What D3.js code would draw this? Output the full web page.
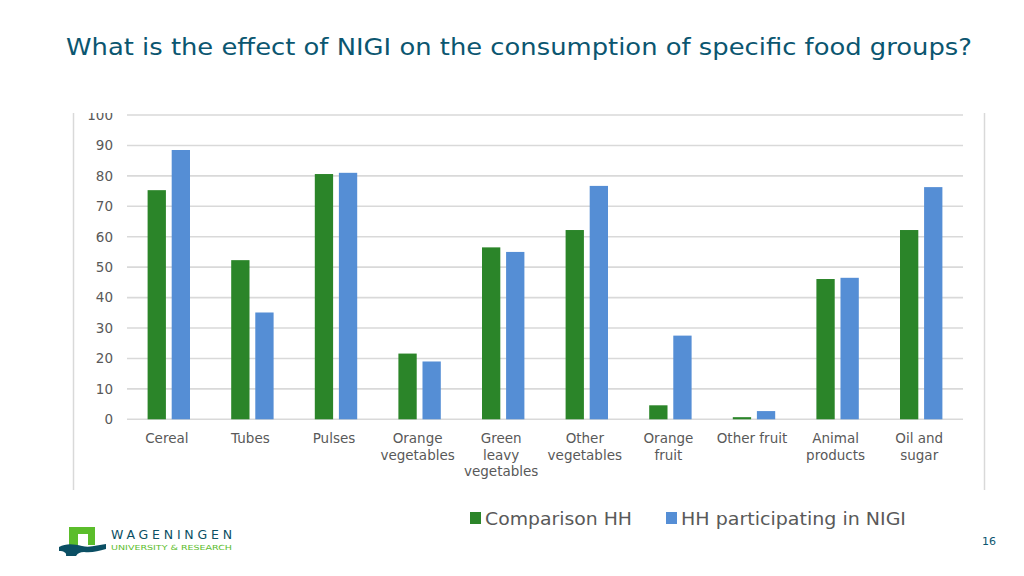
<!DOCTYPE html>
<html><head><meta charset="utf-8">
<script src="https://cdn.jsdelivr.net/npm/d3@7"></script>
<style>
html,body{margin:0;padding:0;background:#fff;}
svg{display:block;font-family:"DejaVu Sans",Verdana,sans-serif;}
</style></head>
<body>
<svg id="c" width="1024" height="576"></svg>
<script>
const categories = ["Cereal","Tubes","Pulses","Orange\nvegetables","Green\nleavy\nvegetables","Other\nvegetables","Orange\nfruit","Other fruit","Animal\nproducts","Oil and\nsugar"];
const seriesNames = ["Comparison HH","HH participating in NIGI"];
const comparisonHH = [75.3,52.3,80.6,21.6,56.5,62.2,4.6,0.7,46.1,62.2];
const nigiHH = [88.5,35.1,81.0,19.0,55.0,76.7,27.5,2.7,46.5,76.3];
const yTicks = [0,10,20,30,40,50,60,70,80,90,100];
const titleText = "What is the effect of NIGI on the consumption of specific food groups?";
const pageNumber = "16";

const colors = ["#2b8529","#558ed5"];
const svg = d3.select("#c");

// title
svg.append("text").attr("x",66).attr("y",55)
  .attr("font-size",22.5).attr("fill","#0b5670")
  .attr("textLength",906).attr("lengthAdjust","spacingAndGlyphs")
  .text(titleText);

// frame lines of embedded chart image
svg.append("line").attr("x1",73.5).attr("x2",73.5).attr("y1",113).attr("y2",490).attr("stroke","#d9d9d9").attr("stroke-width",1.5);
svg.append("line").attr("x1",984.5).attr("x2",984.5).attr("y1",113).attr("y2",490).attr("stroke","#d9d9d9").attr("stroke-width",1.5);

svg.append("defs").append("clipPath").attr("id","clip")
  .append("rect").attr("x",60).attr("y",113).attr("width",930).attr("height",400);

const g = svg.append("g").attr("clip-path","url(#clip)");

const y = d3.scaleLinear().domain([0,100]).range([419.3,115]);
const x = d3.scaleBand().domain(categories).range([127,963]).padding(0);
const xs = d3.scaleBand().domain(seriesNames).range([20.6,63]).paddingInner(0.24);

// gridlines
g.append("g").selectAll("line").data(yTicks).join("line")
  .attr("x1",127).attr("x2",963)
  .attr("y1",d=>y(d)).attr("y2",d=>y(d))
  .attr("stroke","#d9d9d9").attr("stroke-width",1.6);

// y axis labels
const yAxis = d3.axisLeft(y).tickValues(yTicks).tickSize(0).tickPadding(0);
const ya = g.append("g").attr("transform","translate(113,0)").call(yAxis);
ya.select(".domain").remove();
ya.selectAll("text").attr("font-size",13.5).attr("fill","#595959").attr("font-family","DejaVu Sans, Verdana, sans-serif");

// bars
const data = categories.map((c,i)=>({c, vals:[comparisonHH[i], nigiHH[i]]}));
const grp = g.append("g").selectAll("g").data(data).join("g")
  .attr("transform",d=>`translate(${x(d.c)},0)`);
grp.selectAll("rect").data(d=>d.vals.map((v,j)=>({s:seriesNames[j],v,j}))).join("rect")
  .attr("x",d=>xs(d.s)).attr("width",xs.bandwidth())
  .attr("y",d=>y(d.v)).attr("height",d=>y(0)-y(d.v))
  .attr("fill",d=>colors[d.j]);

// x axis labels
const xl = g.append("g").selectAll("text").data(categories).join("text")
  .attr("text-anchor","middle").attr("font-size",13.5).attr("fill","#595959")
  .attr("transform",d=>`translate(${x(d)+x.bandwidth()/2-2},443)`);
xl.each(function(d){
  const t=d3.select(this);
  d.split("\n").forEach((ln,i)=>t.append("tspan").attr("x",0).attr("y",i*16.5).text(ln));
});

// legend
const lg = svg.append("g");
const legX = [470,666];
const legW = [147,225];
seriesNames.forEach((s,i)=>{
  lg.append("rect").attr("x",legX[i]).attr("y",512).attr("width",11).attr("height",12).attr("fill",colors[i]);
  lg.append("text").attr("x",legX[i]+15).attr("y",525).attr("font-size",17.5).attr("fill","#595959")
    .attr("textLength",legW[i]).attr("lengthAdjust","spacingAndGlyphs").text(s);
});

// page number
svg.append("text").attr("x",996).attr("y",545).attr("text-anchor","end").attr("font-size",11).attr("fill","#0b5670").text(pageNumber);

// logo
const logo = svg.append("g");
logo.append("path").attr("d","M69,527 H95 V545 H88 V534 H78 V545 H69 Z").attr("fill","#5bbd2b");
logo.append("path").attr("d","M59,547 C66,543 74,544 82,546 C90,548 98,545 106,544 L106,549 C98,551 92,553 84,552 C80,552 78,553 76,556 L66,556 C67,553 64,551 59,551 Z").attr("fill","#0b4f64");
logo.append("text").attr("x",111).attr("y",538.5).attr("font-size",12.5)
  .attr("fill","#0b4f64").attr("textLength",121).attr("lengthAdjust","spacing").text("WAGENINGEN");
logo.append("text").attr("x",111).attr("y",549.5).attr("font-size",7).attr("fill","#5bbd2b")
  .attr("textLength",121).attr("lengthAdjust","spacingAndGlyphs").text("UNIVERSITY & RESEARCH");
</script>
</body></html>
